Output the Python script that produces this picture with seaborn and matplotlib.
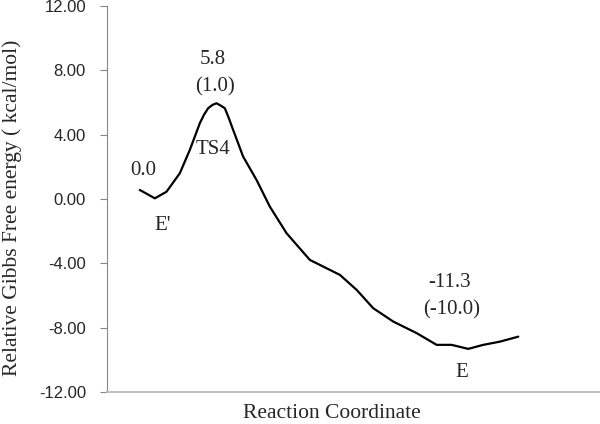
import matplotlib
matplotlib.use('Agg')
import matplotlib.pyplot as plt
import seaborn as sns
import pandas as pd
from matplotlib.ticker import FormatStrFormatter

# ─── Data ───────────────────────────────────────────────────────────────────
coord = [33, 48, 59.7, 73, 83, 93, 97, 101.3, 105.7, 109.7, 113.7, 118, 122,
         126.3, 136.3, 149.7, 163, 179.7, 191.3, 203, 223, 233, 249.7, 266.3,
         286.3, 309.7, 329.7, 344.7, 361.3, 376.3, 393, 411.3]
energy = [0.56, 0.04, 0.45, 1.60, 3.05, 4.71, 5.22, 5.64, 5.85, 5.95, 5.81,
          5.64, 5.02, 4.29, 2.63, 1.18, -0.48, -2.13, -2.96, -3.79, -4.41,
          -4.72, -5.65, -6.79, -7.62, -8.34, -9.07, -9.07, -9.32, -9.07,
          -8.87, -8.56]

label_text = ['0.0', "E'", '5.8', '(1.0)', 'TS4', '-11.3', '(-10.0)', 'E']
label_x = [36, 56, 106, 108, 106, 343, 345, 355]
label_y = [1.80, -1.62, 8.64, 6.95, 3.05, -5.22, -6.90, -10.76]

y_ticks = [-12, -8, -4, 0, 4, 8, 12]
# ────────────────────────────────────────────────────────────────────────────

sns.set_style('white')
serif = ['Liberation Serif', 'DejaVu Serif']
sans = ['Liberation Sans', 'DejaVu Sans']

df = pd.DataFrame({'coord': coord, 'energy': energy})

fig = plt.figure(figsize=(6, 4.24), dpi=100)
ax = fig.add_axes([0.178, 0.0755, 0.822, 0.9105])

sns.lineplot(data=df, x='coord', y='energy', ax=ax, color='black',
             linewidth=1.6, sort=False, solid_joinstyle='round',
             solid_capstyle='round')

for t, x, y in zip(label_text, label_x, label_y):
    ax.text(x, y, t, ha='center', va='center', fontsize=15, family=serif)

ax.set_xlim(0, 493)
ax.set_ylim(-12, 12)
ax.set_yticks(y_ticks)
ax.yaxis.set_major_formatter(FormatStrFormatter('%.2f'))
ax.set_xticks([])
ax.tick_params(axis='y', left=True, length=5, width=0.8, color='#868686',
               labelsize=12, pad=10)
for lab in ax.get_yticklabels():
    lab.set_family(sans)

ax.spines['top'].set_visible(False)
ax.spines['right'].set_visible(False)
ax.spines['left'].set_color('#868686')
ax.spines['left'].set_linewidth(0.8)
ax.spines['bottom'].set_color('#bfbfbf')
ax.spines['bottom'].set_linewidth(1.5)

ax.set_xlabel('Reaction Coordinate', fontsize=15.5, family=serif)
ax.set_ylabel('Relative Gibbs Free energy ( kcal/mol)', fontsize=15.5,
              family=serif)
ax.xaxis.set_label_coords(0.456, -0.032)
ax.yaxis.set_label_coords(-0.172, 0.478)

plt.savefig('out.png', dpi=100)
